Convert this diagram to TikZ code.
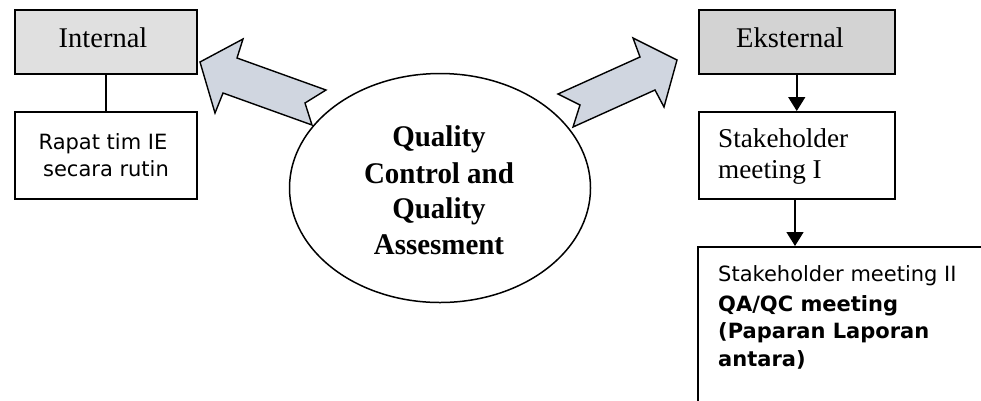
\documentclass[tikz,border=0pt]{standalone}
\usepackage{fontspec}
\usetikzlibrary{arrows.meta,shapes.geometric}
\newfontfamily\timesf{Liberation Serif}
\newfontfamily\timesbf[FakeStretch=0.965]{Liberation Serif Bold}
\newfontfamily\verdf{DejaVu Sans}
\definecolor{intgray}{HTML}{E0E0E0}
\definecolor{eksgray}{HTML}{D3D3D3}
\definecolor{arrowfill}{HTML}{D0D6E0}
\begin{document}
\begin{tikzpicture}[x=1pt,y=-1pt,
  box/.style={draw=black,line width=1.5pt,rectangle,inner sep=0pt,anchor=north west},
  serif/.style={inner sep=0pt,font=\timesf\fontsize{28.5}{34}\selectfont},
  serifs/.style={inner sep=0pt,font=\timesf\fontsize{27.2}{32}\selectfont},
  qtext/.style={inner sep=0pt,font=\timesbf\fontsize{30}{36}\selectfont},
  sans/.style={inner sep=0pt,font=\verdf\fontsize{21}{25}\selectfont},
  sansb/.style={inner sep=0pt,font=\verdf\bfseries\fontsize{21}{25}\selectfont},
  blockarrow/.style={draw=black,line width=1.4pt,fill=arrowfill,line join=miter},
  conn/.style={draw=black,line width=1.5pt},
  connarrow/.style={conn,-{Triangle[length=14pt,width=17pt]}}]
\useasboundingbox (0,0) rectangle (981,400);
\clip (0,0) rectangle (981,400);

% block arrows
\draw[blockarrow] (200,62) -- (243,39) -- (237,58) -- (326,90) -- (305,103) -- (312,125) -- (223,93) -- (215,113) -- cycle;
\draw[blockarrow] (558,94) -- (640,57) -- (633,38) -- (677,60) -- (664,107) -- (655,90) -- (573,127) -- (580,105) -- cycle;

% ellipse
\node[ellipse,draw=black,line width=1.5pt,fill=white,minimum width=301pt,minimum height=229pt,inner sep=0pt] (qc) at (440,188) {};
\node[qtext,anchor=base] (q1) at (439,146.5) {Quality};
\node[qtext,anchor=base] (q2) at (439,183) {Control and};
\node[qtext,anchor=base] (q3) at (439,218) {Quality};
\node[qtext,anchor=base] (q4) at (439,254) {Assesment};

% left side
\node[box,fill=intgray,minimum width=182pt,minimum height=64pt] (int) at (14,9) {};
\node[serif,anchor=base] (intt) at (103,47) {Internal};
\node[box,fill=white,minimum width=182pt,minimum height=87pt] (rap) at (14,111) {};
\node[sans,anchor=base] (rap1) at (103,149) {Rapat tim IE};
\node[sans,anchor=base] (rap2) at (106,176) {secara rutin};
\draw[conn] (int.south) -- (rap.north);

% right side
\node[box,fill=eksgray,minimum width=196pt,minimum height=64pt] (eks) at (698,9) {};
\node[serif,anchor=base] (ekst) at (790,47) {Eksternal};
\node[box,fill=white,minimum width=196pt,minimum height=87pt] (sh1) at (698,111) {};
\node[serifs,anchor=base west] (sh1a) at (718,147) {Stakeholder};
\node[serifs,anchor=base west] (sh1b) at (718,178) {meeting I};
\node[box,fill=white,minimum width=300pt,minimum height=170pt] (sh2) at (697,246) {};
\node[sans,anchor=base west] (sh2a) at (718,281) {Stakeholder meeting II};
\node[sansb,anchor=base west] (sh2b) at (718,311) {QA/QC meeting};
\node[sansb,anchor=base west] (sh2c) at (718,338) {(Paparan Laporan};
\node[sansb,anchor=base west] (sh2d) at (718,366) {antara)};
\coordinate (sh2top) at (795,246);
\draw[connarrow] (eks.south) -- (sh1.north);
\draw[connarrow] (sh1.south -| sh2top) -- (sh2top);
\end{tikzpicture}
\end{document}
